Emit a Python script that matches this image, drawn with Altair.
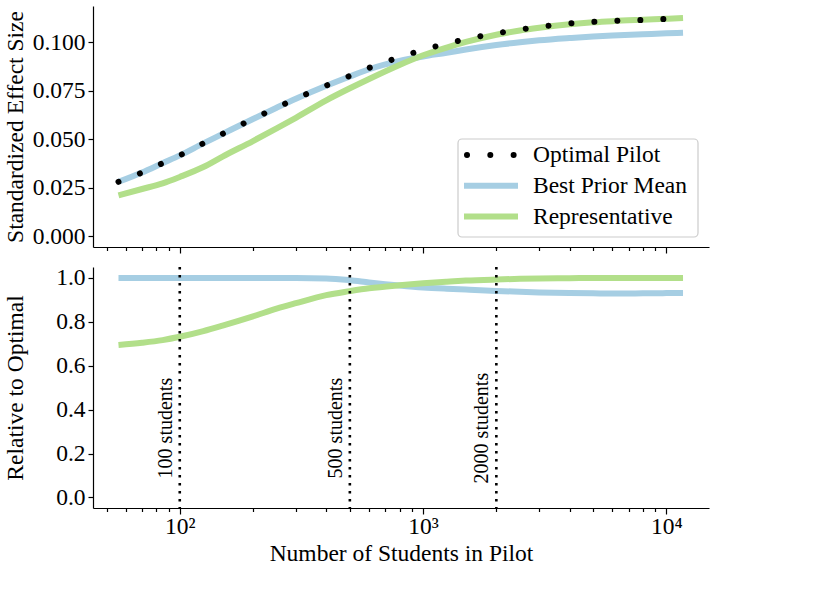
import altair as alt
import pandas as pd

# Pilot sizes (number of students) at which each curve is evaluated
pilot_sizes = [56, 70, 85, 100, 125, 150, 200, 250, 300, 400, 500, 600, 800,
               1000, 1250, 1500, 2000, 2500, 3000, 4000, 5000, 6000, 8000,
               10000, 11700]

# Standardized effect size achieved by each pilot design
optimal_pilot = [0.0280, 0.0328, 0.0376, 0.0416, 0.0478, 0.0527, 0.0604, 0.0662,
                 0.0708, 0.0776, 0.0826, 0.0867, 0.0922, 0.0960, 0.0992, 0.1015,
                 0.1045, 0.1065, 0.1078, 0.1096, 0.1104, 0.1109, 0.1114, 0.1119,
                 0.1122]
best_prior_mean = [0.0280, 0.0328, 0.0376, 0.0416, 0.0478, 0.0527, 0.0604, 0.0662,
                   0.0708, 0.0775, 0.0823, 0.0860, 0.0903, 0.0926, 0.0945, 0.0962,
                   0.0985, 0.0999, 0.1009, 0.1021, 0.1029, 0.1034, 0.1040, 0.1045,
                   0.1048]
representative = [0.0210, 0.0243, 0.0272, 0.0305, 0.0356, 0.0410, 0.0490, 0.0555,
                  0.0610, 0.0700, 0.0762, 0.0810, 0.0882, 0.0932, 0.0972, 0.1001,
                  0.1038, 0.1060, 0.1074, 0.1092, 0.1102, 0.1108, 0.1115, 0.1120,
                  0.1124]

# Effect size relative to the optimal pilot
relative_best_prior = [1.0, 1.0, 1.0, 1.0, 1.0, 1.0, 1.0, 1.0, 1.0, 0.998, 0.990,
                       0.980, 0.966, 0.957, 0.951, 0.947, 0.941, 0.937, 0.934,
                       0.931, 0.930, 0.929, 0.930, 0.931, 0.931]
relative_representative = [0.695, 0.705, 0.717, 0.732, 0.758, 0.783, 0.825, 0.860,
                           0.885, 0.922, 0.940, 0.953, 0.967, 0.976, 0.983, 0.988,
                           0.993, 0.996, 0.998, 0.999, 1.0, 1.0, 1.0, 1.0, 1.0]

# Reference pilot sizes marked in the lower panel
marked_sizes = [100, 500, 2000]

series_names = ["Optimal Pilot", "Best Prior Mean", "Representative"]
series_colors = ["#000000", "#a6cee3", "#b2df8a"]

major_ticks = [100, 1000, 10000]
all_ticks = ([50, 60, 70, 80, 90] + [k * 100 for k in range(1, 10)]
             + [k * 1000 for k in range(1, 10)] + [10000])

FONT = "Liberation Serif"
FS = 23.5
W, H = 616, 241

effect = pd.DataFrame({
    "n": pilot_sizes,
    "Optimal Pilot": optimal_pilot,
    "Best Prior Mean": best_prior_mean,
    "Representative": representative,
})
relative = pd.DataFrame({
    "n": pilot_sizes,
    "Best Prior Mean": relative_best_prior,
    "Representative": relative_representative,
})
markers = pd.DataFrame({"n": marked_sizes,
                        "label": [f"{m} students" for m in marked_sizes]})

x_scale = alt.Scale(type="log", domain=[44, 14960], nice=False)
major_test = " || ".join(f"datum.value == {v}" for v in major_ticks)
tick_size = {"condition": {"test": major_test, "value": 6}, "value": 3.5}

x_top = alt.X("n:Q", scale=x_scale,
              axis=alt.Axis(values=all_ticks, labels=False, title=None,
                            tickSize=tick_size))
x_bottom = alt.X("n:Q", scale=x_scale,
                 axis=alt.Axis(values=all_ticks, tickSize=tick_size,
                               title="Number of Students in Pilot",
                               labelExpr="datum.value == 100 ? '10²' : datum.value == 1000 ? '10³' : datum.value == 10000 ? '10⁴' : ''",
                               labelPadding=0, titlePadding=4))

y_top = alt.Axis(values=[0, 0.025, 0.05, 0.075, 0.1], format=".3f",
                 title="Standardized Effect Size", titleX=-78, titleY=H / 2,
                 titleBaseline="middle", titleAngle=270)
y_bottom = alt.Axis(values=[0, 0.2, 0.4, 0.6, 0.8, 1.0], format=".1f",
                    title="Relative to Optimal", titleX=-78, titleY=H / 2,
                    titleBaseline="middle", titleAngle=270)

top_scale = alt.Scale(domain=[-0.0056, 0.1186], nice=False, zero=False)
bottom_scale = alt.Scale(domain=[-0.048, 1.05], nice=False, zero=False)


def solid_line(df, name, color, y_scale, y_axis, x_enc):
    return alt.Chart(df).mark_line(
        stroke=color, strokeWidth=6, interpolate="monotone", clip=True
    ).encode(x=x_enc, y=alt.Y(f"{name}:Q", scale=y_scale, axis=y_axis))


# ---- upper panel: effect sizes ----
top_layers = [
    solid_line(effect, "Best Prior Mean", series_colors[1], top_scale, y_top, x_top),
    solid_line(effect, "Representative", series_colors[2], top_scale, y_top, x_top),
    alt.Chart(effect).mark_line(
        stroke=series_colors[0], strokeWidth=6, strokeDash=[0.01, 23],
        strokeCap="round", interpolate="monotone"
    ).encode(x=x_top, y=alt.Y("Optimal Pilot:Q", scale=top_scale, axis=y_top)),
]

# legend frame and entries
legend_x0, legend_x1, legend_y0, legend_y1 = 365, 605, 133, 231
top_layers.append(
    alt.Chart(pd.DataFrame({"box": [0]})).mark_rect(
        fill="white", stroke="#cccccc", strokeWidth=1.2, cornerRadius=4
    ).encode(x=alt.value(legend_x0), x2=alt.value(legend_x1),
             y=alt.value(legend_y0), y2=alt.value(legend_y1))
)
for i, (name, color) in enumerate(zip(series_names, series_colors)):
    row_y = 149 + 30.8 * i
    entry = pd.DataFrame({"series": [name]})
    if i == 0:
        sym = alt.Chart(entry).mark_rule(
            stroke=color, strokeWidth=6, strokeDash=[0.01, 23.3], strokeCap="round")
        sym = sym.encode(x=alt.value(374), x2=alt.value(424), y=alt.value(row_y))
    else:
        sym = alt.Chart(entry).mark_rule(stroke=color, strokeWidth=6)
        sym = sym.encode(x=alt.value(371), x2=alt.value(425), y=alt.value(row_y))
    txt = alt.Chart(entry).mark_text(
        align="left", baseline="middle", font=FONT, fontSize=FS, color="black"
    ).encode(x=alt.value(440), y=alt.value(row_y), text="series:N")
    top_layers += [sym, txt]

top = alt.layer(*top_layers).properties(width=W, height=H)

# ---- lower panel: relative to optimal ----
bottom_layers = [
    solid_line(relative, "Best Prior Mean", series_colors[1], bottom_scale, y_bottom, x_bottom),
    solid_line(relative, "Representative", series_colors[2], bottom_scale, y_bottom, x_bottom),
    alt.Chart(markers).mark_rule(
        color="black", strokeWidth=2.6, strokeDash=[2.6, 5.4]
    ).encode(x=x_bottom),
    alt.Chart(markers).mark_text(
        angle=270, align="center", baseline="alphabetic", xOffset=-8,
        font=FONT, fontSize=20, color="black"
    ).encode(x=x_bottom, y=alt.datum(0.316, scale=bottom_scale), text="label:N"),
]
bottom = alt.layer(*bottom_layers).properties(width=W, height=H)

chart = alt.vconcat(top, bottom, spacing=11).properties(
    padding={"left": 3, "top": 6, "right": 10, "bottom": 10}
).configure_view(stroke=None).configure_axis(
    grid=False, domainColor="black", domainWidth=1.2, tickColor="black",
    tickWidth=1.2, labelColor="black", titleColor="black", labelFont=FONT,
    titleFont=FONT, labelFontSize=FS, titleFontSize=FS, titleFontWeight="normal",
    labelPadding=3
)

chart.save("out.html", embed_options={"renderer": "svg", "actions": False})
